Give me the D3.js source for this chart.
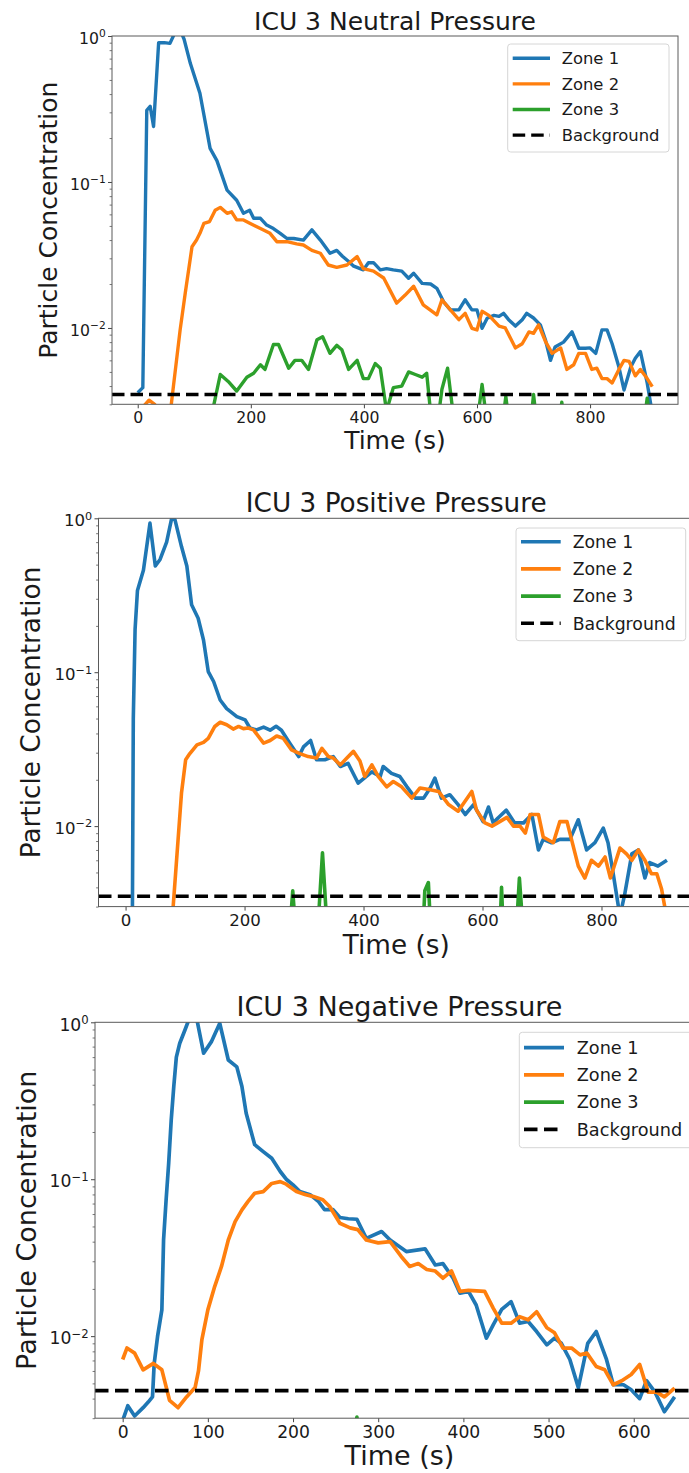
<!DOCTYPE html>
<html><head><meta charset="utf-8">
<script src="https://cdn.jsdelivr.net/npm/d3@7"></script>
<style>html,body{margin:0;padding:0;background:#fff}svg{display:block}</style>
</head><body>
<svg id="fig" width="689" height="1473"></svg>
<script>
// ---------------- DATA ----------------
const titles = ["ICU 3 Neutral Pressure", "ICU 3 Positive Pressure", "ICU 3 Negative Pressure"];
const zoneNames = ["Zone 1", "Zone 2", "Zone 3"];
const backgroundName = "Background";
const xLabel = "Time (s)";
const yLabel = "Particle Concentration";
const xTicksLong = [0, 200, 400, 600, 800];
const xTicksShort = [0, 100, 200, 300, 400, 500, 600];
const yMajorTicks = [1, 0.1, 0.01];
const yMajorExponents = ["0", "\u22121", "\u22122"];
const yDomain = [0.003, 1];
const backgroundLevels = [0.0035, 0.0035, 0.0045];

// Neutral pressure [time s, concentration]
const neutralZone1 = [[0,0.0036],[9,0.0039],[16,0.31],[22,0.33],[28,0.24],[37,0.90],[47,0.90],[57,0.89],[63,1.0],[68,1.1],[76,1.08],[82,0.95],[93,0.65],[110,0.405],[128,0.170],[140,0.14],[158,0.088],[175,0.075],[187,0.061],[198,0.064],[205,0.0564],[217,0.0564],[228,0.0507],[240,0.048],[252,0.0445],[264,0.041],[276,0.041],[293,0.040],[308,0.047],[323,0.040],[340,0.0325],[352,0.034],[362,0.031],[373,0.0285],[382,0.0265],[399,0.025],[408,0.028],[417,0.028],[429,0.025],[440,0.0255],[452,0.025],[467,0.0245],[479,0.0219],[488,0.0237],[503,0.0202],[518,0.020],[529,0.0187],[541,0.0151],[553,0.0133],[568,0.0133],[579,0.0156],[591,0.0133],[600,0.0133],[609,0.00995],[618,0.01165],[630,0.0122],[639,0.0120],[647,0.0126],[656,0.0114],[668,0.0103],[680,0.0114],[688,0.0126],[700,0.0117],[712,0.0105],[721,0.0083],[730,0.0060],[738,0.0074],[753,0.0080],[768,0.0094],[780,0.00726],[792,0.00726],[800,0.0073],[810,0.0067],[821,0.0097],[830,0.0097],[839,0.0078],[851,0.0054],[860,0.00376],[872,0.0054],[880,0.0062],[889,0.0069],[901,0.0042],[910,0.0026]];
const neutralZone2 = [[0,0.0025],[10,0.0029],[20,0.0032],[30,0.0030],[40,0.0026],[50,0.0024],[57,0.0025],[61,0.0034],[75,0.0097],[84,0.0173],[96,0.036],[104,0.040],[110,0.0445],[117,0.052],[127,0.0536],[137,0.064],[146,0.067],[158,0.061],[166,0.0625],[175,0.055],[187,0.055],[199,0.052],[217,0.048],[234,0.0445],[246,0.039],[264,0.039],[281,0.0377],[293,0.037],[308,0.034],[323,0.0325],[337,0.027],[352,0.026],[370,0.027],[388,0.0308],[399,0.0255],[417,0.0245],[435,0.022],[458,0.0148],[473,0.0168],[488,0.0193],[505,0.0144],[529,0.0123],[538,0.0156],[553,0.0133],[568,0.0114],[579,0.0126],[591,0.00995],[600,0.0097],[609,0.013],[621,0.0122],[639,0.0103],[650,0.0100],[668,0.0073],[680,0.0078],[692,0.0094],[700,0.0092],[709,0.0105],[721,0.0081],[733,0.0067],[748,0.0073],[759,0.0052],[771,0.0056],[780,0.0067],[792,0.0067],[803,0.0052],[812,0.0053],[821,0.0045],[830,0.0045],[839,0.0042],[851,0.0052],[860,0.0060],[869,0.0059],[880,0.0047],[889,0.0052],[901,0.0045],[910,0.00396]];
const neutralZone3 = [[0,0.001],[120,0.001],[134,0.0029],[146,0.0048],[160,0.0043],[175,0.0037],[193,0.0046],[205,0.0049],[217,0.0056],[225,0.0052],[240,0.0077],[249,0.0077],[267,0.0053],[278,0.006],[290,0.006],[302,0.0052],[317,0.0083],[327,0.0087],[340,0.0067],[352,0.0076],[361,0.0071],[373,0.0052],[388,0.006],[399,0.0045],[408,0.0045],[420,0.0057],[429,0.0053],[440,0.0027],[452,0.0039],[467,0.0040],[479,0.0050],[491,0.0048],[503,0.0046],[511,0.0049],[520,0.0022],[530,0.0022],[538,0.0038],[548,0.0053],[560,0.0022],[600,0.0022],[609,0.0041],[618,0.0022],[645,0.0022],[651,0.0034],[657,0.0022],[695,0.0022],[700,0.0035],[706,0.0022],[745,0.0022],[750,0.0031],[755,0.0022],[895,0.0022],[901,0.0033],[907,0.0022],[910,0.0022]];

// Positive pressure
const positiveZone1 = [[0,0.001],[11,0.001],[13,0.05],[16,0.19],[20,0.34],[30,0.46],[41,0.93],[50,0.49],[58,0.54],[69,0.70],[78,1.02],[83,0.98],[94,0.655],[103,0.49],[111,0.274],[122,0.224],[131,0.162],[139,0.101],[148,0.087],[159,0.066],[170,0.058],[187,0.0515],[201,0.049],[209,0.0434],[220,0.0422],[232,0.044],[243,0.042],[253,0.0445],[262,0.042],[276,0.0346],[291,0.0283],[299,0.0327],[311,0.036],[321,0.027],[335,0.027],[349,0.0283],[361,0.0244],[374,0.0256],[391,0.019],[414,0.0225],[428,0.021],[433,0.0244],[447,0.022],[461,0.021],[473,0.018],[487,0.0152],[501,0.0152],[512,0.0177],[520,0.0205],[531,0.0152],[545,0.016],[559,0.0138],[571,0.0119],[585,0.0138],[601,0.0107],[610,0.0133],[618,0.0105],[626,0.0113],[640,0.0127],[654,0.0105],[669,0.0105],[683,0.0119],[694,0.0070],[702,0.0082],[716,0.0078],[730,0.0082],[747,0.0082],[761,0.011],[775,0.0070],[789,0.0078],[803,0.0097],[811,0.0078],[819,0.0051],[831,0.0026],[839,0.0036],[851,0.0066],[862,0.0070],[873,0.0046],[881,0.0058],[895,0.0055],[910,0.006]];
const positiveZone2 = [[0,0.001],[78,0.001],[80,0.003],[94,0.0164],[101,0.027],[108,0.0296],[120,0.0337],[131,0.035],[139,0.0372],[150,0.0444],[159,0.0473],[170,0.0456],[181,0.0427],[190,0.0444],[198,0.043],[206,0.0434],[215,0.0422],[232,0.0346],[243,0.036],[254,0.0385],[265,0.0372],[279,0.0313],[293,0.0296],[307,0.0283],[321,0.0277],[330,0.032],[341,0.0283],[349,0.0277],[361,0.025],[372,0.0277],[383,0.0306],[394,0.0265],[402,0.021],[414,0.025],[425,0.021],[439,0.018],[450,0.0195],[464,0.018],[481,0.0152],[495,0.0177],[510,0.0173],[526,0.0168],[543,0.0138],[559,0.0125],[582,0.0168],[590,0.0127],[604,0.0105],[616,0.0100],[629,0.0107],[641,0.0114],[652,0.0100],[663,0.0100],[672,0.0090],[680,0.0119],[694,0.0119],[702,0.0085],[719,0.0078],[730,0.0107],[742,0.0107],[761,0.0055],[772,0.0046],[783,0.0060],[795,0.0055],[806,0.0063],[815,0.0046],[831,0.0072],[842,0.0066],[851,0.0060],[862,0.0070],[873,0.0060],[884,0.0049],[893,0.0049],[901,0.0039],[910,0.0025]];
const positiveZone3 = [[0,0.001],[270,0.001],[281,0.0038],[292,0.001],[318,0.001],[331,0.0067],[344,0.001],[496,0.001],[503,0.0038],[509,0.0043],[517,0.001],[626,0.001],[632,0.0040],[638,0.001],[652,0.001],[662,0.0046],[674,0.001],[910,0.001]];

// Negative pressure
const negativeZone1 = [[0,0.0029],[6,0.0036],[14,0.0031],[24,0.0035],[30,0.0038],[35,0.0041],[37,0.0067],[41,0.010],[46,0.0147],[48,0.041],[51,0.074],[54,0.126],[57,0.239],[60,0.39],[63,0.60],[67,0.735],[73,0.89],[78,1.05],[87,1.05],[95,0.635],[104,0.75],[114,0.985],[124,0.575],[134,0.52],[140,0.39],[145,0.263],[155,0.166],[165,0.15],[175,0.136],[185,0.112],[192,0.10],[200,0.092],[208,0.0834],[220,0.0797],[230,0.072],[237,0.064],[247,0.064],[255,0.057],[265,0.056],[275,0.0556],[286,0.042],[304,0.0464],[314,0.041],[333,0.0346],[355,0.036],[367,0.0284],[376,0.029],[388,0.0234],[396,0.0188],[406,0.0193],[415,0.0158],[427,0.0097],[435,0.0118],[445,0.0148],[456,0.0166],[466,0.0121],[476,0.0124],[486,0.0107],[498,0.0088],[507,0.0097],[515,0.0090],[525,0.0071],[535,0.0047],[546,0.0090],[556,0.0107],[568,0.0071],[576,0.0049],[588,0.0049],[597,0.00455],[607,0.0040],[615,0.0052],[625,0.0044],[636,0.0033],[648,0.0041]];
const negativeZone2 = [[0,0.0071],[5,0.0084],[14,0.0078],[24,0.0061],[36,0.0067],[46,0.0061],[55,0.0039],[65,0.0035],[75,0.0041],[85,0.0047],[89,0.006],[93,0.0095],[100,0.0147],[108,0.0207],[116,0.0278],[124,0.041],[132,0.0537],[140,0.0638],[147,0.072],[155,0.0814],[165,0.0834],[175,0.094],[185,0.0965],[192,0.093],[204,0.0834],[214,0.080],[224,0.0775],[235,0.074],[243,0.067],[255,0.0524],[267,0.049],[276,0.0477],[286,0.041],[300,0.0393],[314,0.040],[327,0.0322],[337,0.0278],[347,0.029],[357,0.0266],[367,0.026],[376,0.0234],[386,0.026],[396,0.0193],[406,0.0196],[425,0.0193],[435,0.0151],[445,0.0121],[456,0.0121],[466,0.0133],[476,0.0127],[486,0.0143],[498,0.0113],[507,0.0105],[517,0.0084],[527,0.0084],[537,0.0076],[545,0.0078],[556,0.0064],[566,0.0061],[576,0.0049],[586,0.0052],[597,0.0057],[607,0.0066],[617,0.0044],[627,0.0044],[636,0.0041],[648,0.00467]];
const negativeZone3 = [[0,0.001],[266,0.001],[275,0.00305],[284,0.001],[650,0.001]];

// ---------------- LAYOUT / STYLE ----------------
const zoneColors = ["#1f77b4", "#ff7f0e", "#2ca02c"];
const FONT = "'DejaVu Sans', sans-serif";
const TEXT = "#1a1a1a";

const panels = [
  {title: titles[0], zones: [neutralZone1, neutralZone2, neutralZone3], bg: backgroundLevels[0], xTicks: xTicksLong,
   left: 112, right: 678, top: 36, bottom: 404.3, xDomain: [-45.5, 955.5],
   bigFs: 25, tickFs: 15.7, legFs: 16.4, lw: 3.4, dash: [12.5, 6],
   titleY: 30, xLabelY: 449, yLabelX: 57,
   leg: {x: 507.7, y: 44, w: 161.3, h: 108, row0: 58.3, dy: 25.6, h0: 512.7, h1: 550, tx: 561.7}},
  {title: titles[1], zones: [positiveZone1, positiveZone2, positiveZone3], bg: backgroundLevels[1], xTicks: xTicksLong,
   left: 98.5, right: 694, top: 518.3, bottom: 906.6, xDomain: [-45.5, 955.5],
   bigFs: 26.3, tickFs: 16.6, legFs: 17.3, lw: 3.6, dash: [13, 6.3],
   titleY: 512, xLabelY: 953.5, yLabelX: 40,
   leg: {x: 516, y: 528, w: 169.7, h: 112.7, row0: 541.7, dy: 27.2, h0: 521, h1: 560.7, tx: 572.7}},
  {title: titles[2], zones: [negativeZone1, negativeZone2, negativeZone3], bg: backgroundLevels[2], xTicks: xTicksShort,
   left: 95, right: 704, top: 1022.3, bottom: 1418.2, xDomain: [-32.5, 682.5],
   bigFs: 27, tickFs: 17.2, legFs: 17.7, lw: 3.7, dash: [13.5, 6.5],
   titleY: 1016, xLabelY: 1465, yLabelX: 36,
   leg: {x: 519.3, y: 1032.3, w: 178, h: 115.4, row0: 1047.7, dy: 27.2, h0: 524, h1: 564, tx: 576.7}}
];

// minor log ticks
const yMinorTicks = [];
[-3, -2, -1].forEach(e => { for (let k = 2; k <= 9; k++) { const v = k * Math.pow(10, e); if (v >= yDomain[0] * 0.999 && v < 1) yMinorTicks.push(v); } });

const svg = d3.select("#fig");

panels.forEach((p, pi) => {
  const x = d3.scaleLinear().domain(p.xDomain).range([p.left, p.right]);
  const y = d3.scaleLog().domain(yDomain).range([p.bottom, p.top]);
  const g = svg.append("g");

  const clipId = "clip" + pi;
  g.append("clipPath").attr("id", clipId).append("rect")
    .attr("x", p.left).attr("y", p.top).attr("width", p.right - p.left).attr("height", p.bottom - p.top);

  const plot = g.append("g").attr("clip-path", `url(#${clipId})`);
  const line = d3.line().x(d => x(d[0])).y(d => y(d[1]));
  p.zones.forEach((z, zi) => {
    plot.append("path").attr("d", line(z)).attr("fill", "none")
      .attr("stroke", zoneColors[zi]).attr("stroke-width", p.lw)
      .attr("stroke-linejoin", "round").attr("stroke-linecap", "butt");
  });
  plot.append("line")
    .attr("x1", x(p.xDomain[0])).attr("x2", x(p.xDomain[1]))
    .attr("y1", y(p.bg)).attr("y2", y(p.bg))
    .attr("stroke", "#000").attr("stroke-width", p.lw)
    .attr("stroke-dasharray", p.dash.join(","));

  // x axis
  const gx = g.append("g").attr("transform", `translate(0,${p.bottom})`)
    .call(d3.axisBottom(x).tickValues(p.xTicks).tickSize(4).tickPadding(3.4).tickFormat(d3.format("d")));
  gx.select(".domain").remove();
  gx.selectAll(".tick line").attr("stroke", "#444").attr("stroke-width", 1);
  gx.selectAll(".tick text").attr("font-family", FONT).attr("font-size", p.tickFs).attr("fill", TEXT);

  // y axis minor
  const gym = g.append("g").attr("transform", `translate(${p.left},0)`)
    .call(d3.axisLeft(y).tickValues(yMinorTicks).tickSize(2.4).tickFormat(() => ""));
  gym.select(".domain").remove();
  gym.selectAll(".tick line").attr("stroke", "#555").attr("stroke-width", 0.8);

  // y axis major
  const gy = g.append("g").attr("transform", `translate(${p.left},0)`)
    .call(d3.axisLeft(y).tickValues(yMajorTicks).tickSize(4).tickPadding(6).tickFormat(() => ""));
  gy.select(".domain").remove();
  gy.selectAll(".tick line").attr("stroke", "#444").attr("stroke-width", 1);
  gy.selectAll(".tick text").each(function (d, i) {
    const t = d3.select(this);
    t.attr("dy", null).attr("y", 0.45 * p.tickFs).attr("x", -6.3)
      .attr("font-family", FONT).attr("font-size", p.tickFs).attr("fill", TEXT).attr("text-anchor", "end");
    t.text(null);
    t.append("tspan").text("10");
    t.append("tspan").attr("font-size", 0.68 * p.tickFs).attr("dy", -0.4 * p.tickFs).text(yMajorExponents[i]);
  });

  // frame
  g.append("rect").attr("x", p.left).attr("y", p.top)
    .attr("width", p.right - p.left).attr("height", p.bottom - p.top)
    .attr("fill", "none").attr("stroke", "#5a5a5a").attr("stroke-width", 1);

  // title & labels
  const cx = (p.left + p.right) / 2;
  g.append("text").attr("x", cx).attr("y", p.titleY).attr("text-anchor", "middle")
    .attr("font-family", FONT).attr("font-size", p.bigFs).attr("fill", TEXT).text(p.title);
  g.append("text").attr("x", cx).attr("y", p.xLabelY).attr("text-anchor", "middle")
    .attr("font-family", FONT).attr("font-size", p.bigFs).attr("fill", TEXT).text(xLabel);
  const cy = (p.top + p.bottom) / 2;
  g.append("text").attr("transform", `translate(${p.yLabelX},${cy}) rotate(-90)`).attr("text-anchor", "middle")
    .attr("font-family", FONT).attr("font-size", p.bigFs).attr("fill", TEXT).text(yLabel);

  // legend
  const L = p.leg;
  const lg = g.append("g");
  lg.append("rect").attr("x", L.x).attr("y", L.y).attr("width", L.w).attr("height", L.h)
    .attr("rx", 3).attr("ry", 3).attr("fill", "#fff").attr("fill-opacity", 0.85)
    .attr("stroke", "#d6d6d6").attr("stroke-width", 1);
  const entries = zoneNames.map((n, i) => ({name: n, color: zoneColors[i], dash: null}))
    .concat([{name: backgroundName, color: "#000", dash: p.dash.join(",")}]);
  entries.forEach((e, i) => {
    const ry = L.row0 + i * L.dy;
    lg.append("line").attr("x1", L.h0).attr("x2", L.h1).attr("y1", ry).attr("y2", ry)
      .attr("stroke", e.color).attr("stroke-width", p.lw)
      .attr("stroke-dasharray", e.dash);
    lg.append("text").attr("x", L.tx).attr("y", ry).attr("dy", "0.36em")
      .attr("font-family", FONT).attr("font-size", p.legFs).attr("fill", TEXT).text(e.name);
  });
});
</script>
</body></html>
